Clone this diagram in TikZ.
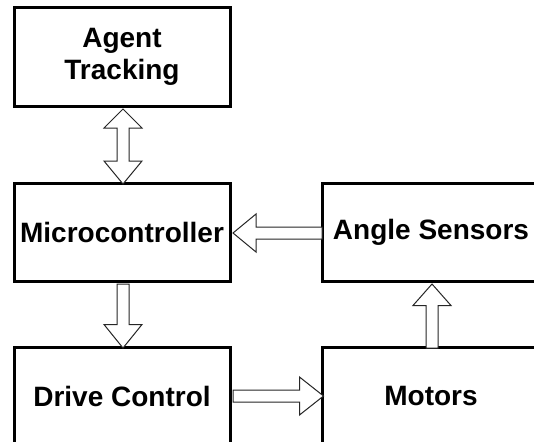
\documentclass[tikz,border=0pt]{standalone}
\usepackage{fontspec}
\setmainfont{Liberation Sans}
\usetikzlibrary{calc}
\begin{document}
\begin{tikzpicture}[x=1pt,y=-1pt,
  box/.style={draw=black,line width=3pt,fill=white,minimum height=98pt,
    font=\fontsize{28}{32}\selectfont\bfseries,align=center,inner sep=0pt},
  blk/.style={draw=black!85,line width=1pt,fill=white,line join=miter}]
\useasboundingbox (0,0) rectangle (534,441);
\clip (0,0) rectangle (534,441);
\fill[white] (0,0) rectangle (534,441);
\node[box,minimum width=216pt] (A) at (122,57) {Agent\\Tracking};
\node[box,minimum width=216pt] (M) at (122,232) {Microcontroller};
\node[box,minimum width=216pt] (D) at (122,396) {Drive Control};
\node[box,minimum width=218pt] (S) at (431,232) {Angle Sensors};
\node[box,minimum width=218pt] (T) at (431,396) {Motors};
% Agent <-> Microcontroller
\draw[blk] ($(A.south)+(1,1.5)$) -- ++(19,19) -- ++(-13,0) -- ++(0,33) -- ++(13,0)
  -- ++(-19,23) -- ++(-19,-23) -- ++(13,0) -- ++(0,-33) -- ++(-13,0) -- cycle;
% Microcontroller -> Drive
\draw[blk] ($(M.south)+(-5,1.5)$) -- ++(0,40.5) -- ++(-13,0) -- ++(19,23.5)
  -- ++(19,-23.5) -- ++(-13,0) -- ++(0,-40.5) -- cycle;
% Angle Sensors -> Microcontroller
\draw[blk] ($(M.east)+(1.5,1)$) -- ++(23,-19) -- ++(0,13) -- ++(66,0) -- ++(0,12)
  -- ++(-66,0) -- ++(0,13) -- cycle;
% Drive -> Motors
\draw[blk] ($(D.east)+(1.5,-6)$) -- ++(66.5,0) -- ++(0,-13) -- ++(24,19)
  -- ++(-24,19) -- ++(0,-13) -- ++(-66.5,0) -- cycle;
% Motors -> Angle Sensors
\draw[blk] ($(S.south)+(1,1.5)$) -- ++(19,21.5) -- ++(-13,0) -- ++(0,42.5) -- ++(-12,0)
  -- ++(0,-42.5) -- ++(-13,0) -- cycle;
\end{tikzpicture}
\end{document}
